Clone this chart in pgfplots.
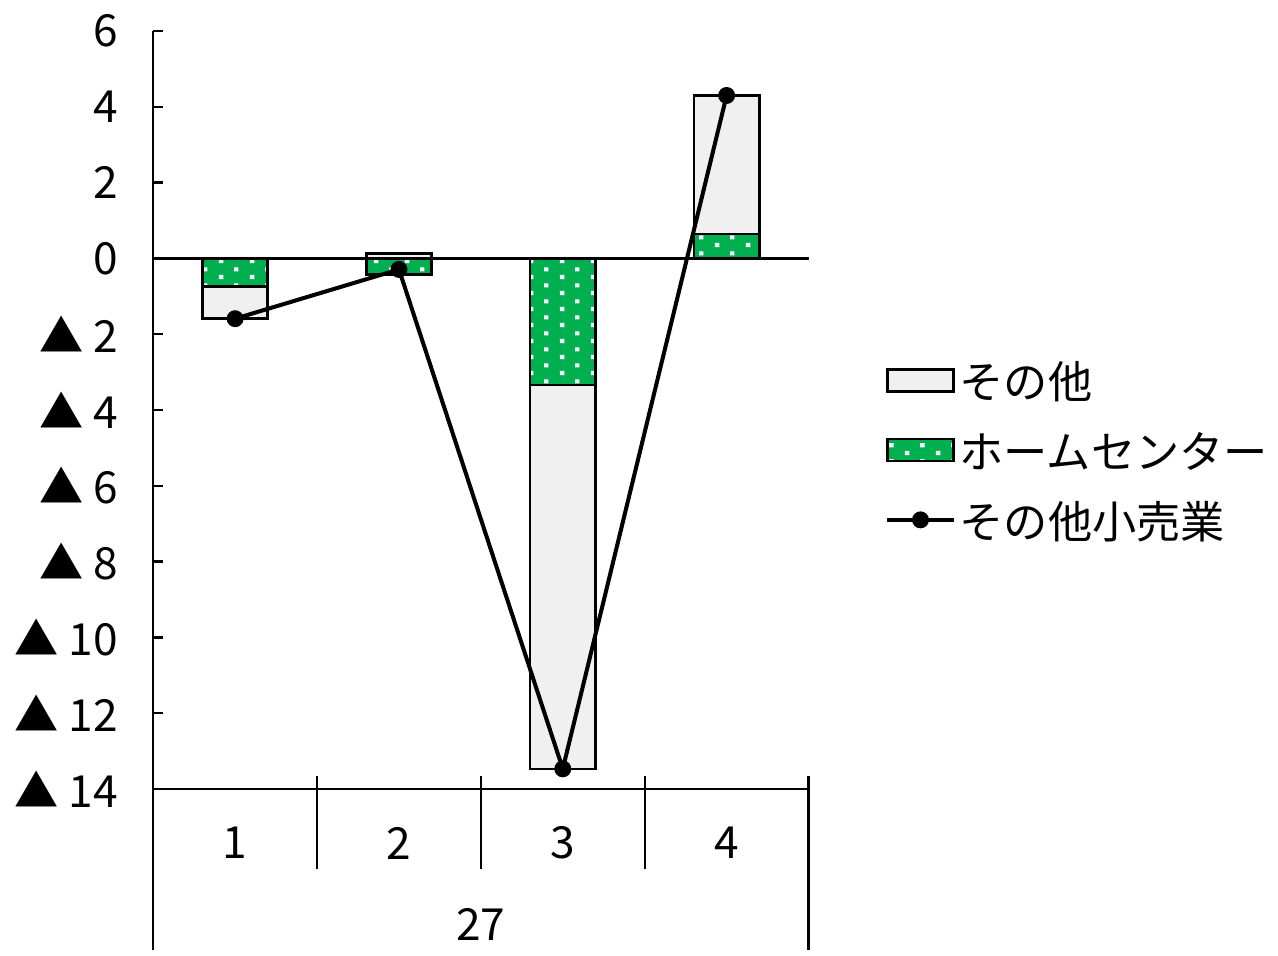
\documentclass[border=0pt]{standalone}
\usepackage{fontspec}
\setmainfont{Noto Sans CJK JP}
\usepackage{pgfplots}
\pgfplotsset{compat=1.18}
\usetikzlibrary{patterns.meta}

\definecolor{othergray}{HTML}{F0F0F0}
\definecolor{hcgreen}{HTML}{00B050}

% sparse staggered white dots, like the Excel fill
\pgfdeclarepattern{
  name=whitedots,
  type=uncolored,
  bottom left={\pgfpoint{0pt}{0pt}},
  top right={\pgfpoint{15.5pt}{8pt}},
  tile size={\pgfpoint{15.5pt}{8pt}},
  code={
    \pgfpathrectangle{\pgfpoint{1pt}{1pt}}{\pgfpoint{2.2pt}{2.2pt}}
    \pgfpathrectangle{\pgfpoint{8.75pt}{5pt}}{\pgfpoint{2.2pt}{2.2pt}}
    \pgfusepath{fill}
  }
}

\pgfplotsset{
  barleg/.style={legend image code/.code={\draw[##1] (0pt,-5.5pt) rectangle (33pt,5.5pt);}},
  lineleg/.style={legend image code/.code={\draw[mark repeat=2, mark phase=2, ##1] plot coordinates {(0pt,0pt) (16.5pt,0pt) (33pt,0pt)};}},
}

\begin{document}
\fontsize{22}{26}\selectfont
\begin{tikzpicture}
\begin{axis}[
  scale only axis,
  width=326pt, height=377pt,
  xmin=0.5, xmax=4.5,
  ymin=-14, ymax=6,
  axis lines=left,
  axis line style={-, line width=1.2pt},
  xtick={1,2,3,4},
  xticklabels={1,2,3,4},
  xtick style={draw=none},
  xticklabel style={anchor=center, yshift=-27pt},
  ytick={-14,-12,...,6},
  yticklabels={▲ 14,▲ 12,▲ 10,▲ 8,▲ 6,▲ 4,▲ 2,0,2,4,6},
  ytick style={line width=1.2pt, black},
  tick align=inside,
  major tick length=5pt,
  yticklabel style={anchor=east, xshift=-10pt},
  clip=false,
  legend style={
    at={(rel axis cs:1,0.447)}, anchor=west, xshift=35pt,
    draw=none, fill=none, row sep=12.5pt,
    nodes={inner sep=2pt, text depth=0pt},
  },
  legend cell align=left,
]
% zero line
\addplot[black, line width=1.2pt, forget plot] coordinates {(0.5,0) (4.5,0)};

% その他 (drawn to the bar total, green overlaid from zero)
\addplot[ybar, bar width=32.5pt, bar shift=0pt, draw=black, line width=1.3pt, fill=othergray, barleg]
  coordinates {(1,-1.59) (2,0.13) (3,-13.47) (4,4.30)};
\addlegendentry{その他}

% ホームセンター
\addplot[ybar, bar width=32.5pt, bar shift=0pt, draw=black, line width=1.3pt, fill=hcgreen,
  postaction={pattern=whitedots, pattern color=white}, barleg]
  coordinates {(1,-0.74) (2,-0.42) (3,-3.34) (4,0.64)};
\addlegendentry{ホームセンター}

% その他小売業
\addplot[black, line width=2pt, mark=*, mark size=3.2pt, lineleg]
  coordinates {(1,-1.59) (2,-0.29) (3,-13.47) (4,4.30)};
\addlegendentry{その他小売業}

% category separators and group label
\draw[line width=1.2pt] (axis cs:0.5,-14) -- ([yshift=-80pt]axis cs:0.5,-14);
\draw[line width=1.2pt] ([yshift=6.5pt]axis cs:4.5,-14) -- ([yshift=-80pt]axis cs:4.5,-14);
\draw[line width=1.2pt] ([yshift=6.5pt]axis cs:1.5,-14) -- ([yshift=-40pt]axis cs:1.5,-14);
\draw[line width=1.2pt] ([yshift=6.5pt]axis cs:2.5,-14) -- ([yshift=-40pt]axis cs:2.5,-14);
\draw[line width=1.2pt] ([yshift=6.5pt]axis cs:3.5,-14) -- ([yshift=-40pt]axis cs:3.5,-14);
\node at ([yshift=-67.5pt]rel axis cs:0.5,0) {27};
\end{axis}
\end{tikzpicture}
\end{document}
